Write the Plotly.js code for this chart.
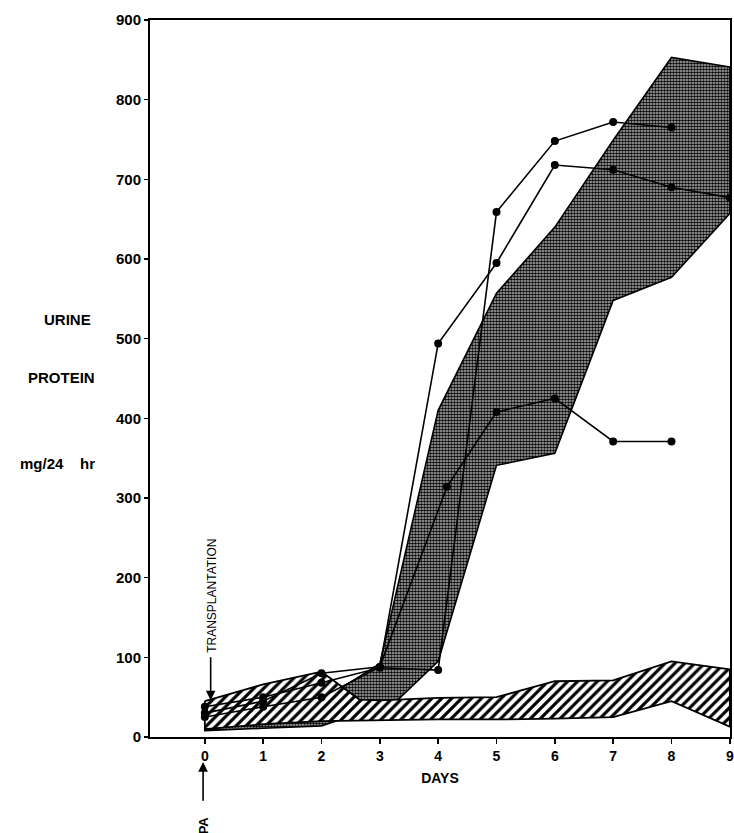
<!DOCTYPE html>
<html>
<head>
<meta charset="utf-8">
<script src="https://cdn.plot.ly/plotly-3.0.1.min.js"></script>
<style>
  html, body { margin: 0; padding: 0; background: #fff; }
  #chart { width: 734px; height: 833px; }
</style>
</head>
<body>
<div id="chart"></div>
<script>
// ---- data ----
const dayTicks = [0, 1, 2, 3, 4, 5, 6, 7, 8, 9];
const proteinTicks = [0, 100, 200, 300, 400, 500, 600, 700, 800, 900];

// stippled range (experimental group)
const stippleUpperX = [0, 1, 2, 3, 4, 5, 6, 7, 8, 9];
const stippleUpperY = [45, 48, 46, 92, 410, 557, 640, 749, 853, 841];
const stippleLowerX = [0, 1, 2, 3.3, 4, 5, 6, 7, 8, 9];
const stippleLowerY = [8, 11, 14, 46, 95, 341, 356, 548, 577, 657];

// hatched range (control group)
const hatchUpperX = [0, 1, 2, 2.65, 3, 4, 5, 6, 7, 8, 9];
const hatchUpperY = [45, 66, 82, 47, 46, 49, 50, 70, 71, 95, 85];
const hatchLowerX = [0, 1, 2, 3, 4, 5, 6, 7, 8, 9];
const hatchLowerY = [10, 16, 20, 21, 22, 22, 23, 25, 45, 13];

// individual animals
const seriesAX = [0, 1, 2, 3, 4, 5, 6, 7, 8];
const seriesAY = [38, 50, 68, 87, 84, 659, 748, 772, 765];
const seriesBX = [0, 1, 2, 3, 4, 5, 6, 7, 8, 9];
const seriesBY = [30, 45, 80, 88, 494, 595, 718, 712, 690, 677];
const seriesCX = [0, 1, 2, 3, 4.15, 5, 6, 7, 8];
const seriesCY = [25, 38, 50, 88, 314, 408, 425, 371, 371];

function polygon(ux, uy, lx, ly) {
  return {
    x: ux.concat(lx.slice().reverse(), [ux[0]]),
    y: uy.concat(ly.slice().reverse(), [uy[0]])
  };
}

const stip = polygon(stippleUpperX, stippleUpperY, stippleLowerX, stippleLowerY);
const hatch = polygon(hatchUpperX, hatchUpperY, hatchLowerX, hatchLowerY);

const FONT = 'Liberation Sans, Arial, sans-serif';

const traces = [
  {
    x: stip.x, y: stip.y, type: 'scatter', mode: 'lines', fill: 'toself',
    fillcolor: '#555',
    fillpattern: { shape: '.', fgcolor: '#000', bgcolor: '#bdbdbd', size: 3, solidity: 0.6 },
    line: { color: '#000', width: 1.6 }, hoverinfo: 'skip', showlegend: false
  },
  {
    x: hatch.x, y: hatch.y, type: 'scatter', mode: 'lines', fill: 'toself',
    fillcolor: '#fff',
    fillpattern: { shape: '/', fgcolor: '#000', bgcolor: '#fff', size: 7, solidity: 0.45 },
    line: { color: '#000', width: 1.8 }, hoverinfo: 'skip', showlegend: false
  }
];

[[seriesAX, seriesAY], [seriesBX, seriesBY], [seriesCX, seriesCY]].forEach(function (s) {
  traces.push({
    x: s[0], y: s[1], type: 'scatter', mode: 'lines+markers',
    line: { color: '#000', width: 1.6 },
    marker: { color: '#000', size: 8, symbol: 'circle' },
    showlegend: false, hoverinfo: 'skip'
  });
});

const layout = {
  width: 734, height: 833,
  margin: { l: 150, r: 4, t: 20, b: 96 },
  paper_bgcolor: '#fff', plot_bgcolor: '#fff',
  font: { family: FONT, color: '#000' },
  showlegend: false,
  xaxis: {
    range: [-0.94, 9.003], tickvals: dayTicks, ticktext: dayTicks.map(String),
    ticklabeloverflow: 'allow',
    showgrid: false, zeroline: false,
    showline: true, mirror: true, linecolor: '#000', linewidth: 2,
    ticks: 'outside', ticklen: 5, tickwidth: 1.5, tickcolor: '#000',
    tickfont: { family: FONT, size: 14, weight: 'bold' },
    title: { text: 'DAYS', font: { family: FONT, size: 14, weight: 'bold' }, standoff: 10 }
  },
  yaxis: {
    range: [0, 900], tickvals: proteinTicks, ticktext: proteinTicks.map(String),
    showgrid: false, zeroline: false,
    showline: true, mirror: true, linecolor: '#000', linewidth: 2,
    ticks: 'outside', ticklen: 4, tickwidth: 1.5, tickcolor: '#000',
    tickfont: { family: FONT, size: 15, weight: 'bold' }
  },
  annotations: [
    { text: 'URINE', xref: 'paper', yref: 'paper', x: -0.143, y: 0.5816, xanchor: 'center', yanchor: 'middle',
      showarrow: false, font: { family: FONT, size: 15, weight: 'bold' } },
    { text: 'PROTEIN', xref: 'paper', yref: 'paper', x: -0.153, y: 0.502, xanchor: 'center', yanchor: 'middle',
      showarrow: false, font: { family: FONT, size: 15, weight: 'bold' } },
    { text: 'mg/24&nbsp;&nbsp;&nbsp;&nbsp;hr', xref: 'paper', yref: 'paper', x: -0.16, y: 0.381, xanchor: 'center', yanchor: 'middle',
      showarrow: false, font: { family: FONT, size: 15, weight: 'bold' } },
    { text: 'TRANSPLANTATION', xref: 'x', yref: 'y', x: 0.12, y: 177, textangle: -90, showarrow: false,
      font: { family: FONT, size: 12 } },
    { text: '', xref: 'x', yref: 'y', x: 0.1, y: 46, axref: 'x', ayref: 'y', ax: 0.1, ay: 102,
      showarrow: true, arrowhead: 2, arrowsize: 1.2, arrowwidth: 1.6, arrowcolor: '#000' },
    { text: '', xref: 'x', yref: 'paper', x: -0.03, y: -0.035, axref: 'x', ayref: 'paper', ax: -0.03, ay: -0.091,
      showarrow: true, arrowhead: 2, arrowsize: 1.2, arrowwidth: 1.6, arrowcolor: '#000' },
    { text: 'PA', xref: 'x', yref: 'paper', x: -0.02, y: -0.139, textangle: -90, showarrow: false,
      font: { family: FONT, size: 13, weight: 'bold' } }
  ]
};

Plotly.newPlot('chart', traces, layout, { staticPlot: true, displayModeBar: false });
</script>
</body>
</html>
